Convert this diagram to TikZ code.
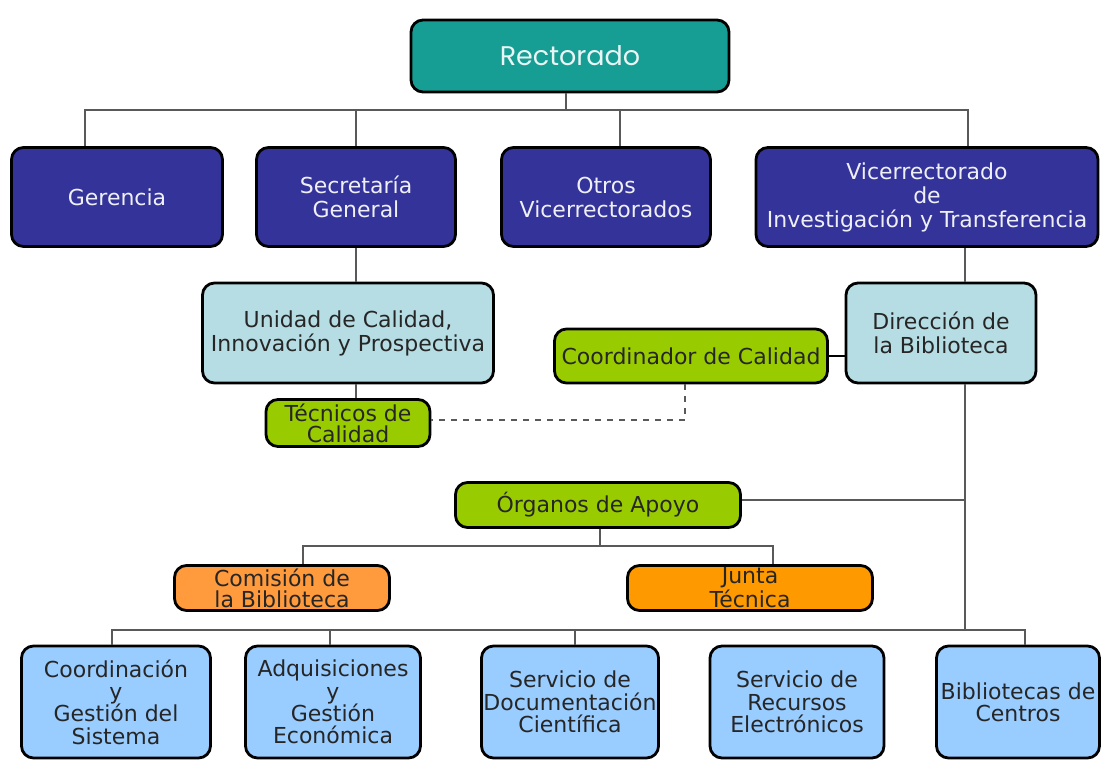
\documentclass[tikz,border=0pt]{standalone}
\usepackage{fontspec}
\setmainfont{DejaVu Sans}
\newfontfamily\headfont{Poppins}
\usepackage{tikz}
\definecolor{tealhead}{HTML}{169E94}
\definecolor{navybox}{HTML}{333399}
\definecolor{palebox}{HTML}{B6DDE3}
\definecolor{limebox}{HTML}{99CC00}
\definecolor{orangeA}{HTML}{FF9A3D}
\definecolor{orangeB}{HTML}{FF9900}
\definecolor{skybox}{HTML}{99CCFF}
\tikzstyle{box} = [rectangle, rounded corners=6pt, draw=black, line width=1.4pt, align=center, inner sep=1pt, text=black!85, font=\fontsize{11}{12}\selectfont]
\tikzstyle{head} = [box, fill=tealhead, text=white!90!tealhead, font=\headfont\fontsize{13.5}{15}\selectfont, minimum width=159pt, minimum height=36pt]
\tikzstyle{navy} = [box, fill=navybox, text=white!92!navybox, minimum height=49.5pt]
\tikzstyle{pale} = [box, fill=palebox, minimum height=50pt]
\tikzstyle{lime} = [box, fill=limebox]
\tikzstyle{small} = [box, inner sep=0pt, font=\fontsize{11}{10.6}\selectfont, minimum height=22.5pt]
\tikzstyle{unit} = [box, fill=skybox, minimum height=56pt, font=\fontsize{11}{11.2}\selectfont]
\tikzstyle{link} = [draw=black!65, line width=0.7pt]
\tikzstyle{dashlink} = [link, dashed]

\begin{document}
\begin{tikzpicture}[x=0.5pt, y=-0.5pt]
    \useasboundingbox (0,0) rectangle (1102,760);

    \node (rect) [head] at (570,56) {Rectorado};

    \node (ger) [navy, minimum width=105.5pt] at (117,197) {Gerencia};
    \node (sec) [navy, minimum width=99.5pt] at (356,197) {Secretaría\\General};
    \node (otros) [navy, minimum width=104.5pt] at (606,197) {Otros\\Vicerrectorados};
    \node (vice) [navy, minimum width=171pt] at (927,197) {Vicerrectorado\\de\\Investigación y Transferencia};

    \node (unidad) [pale, minimum width=145.5pt] at (348,333) {Unidad de Calidad,\\Innovación y Prospectiva};
    \node (dir) [pale, minimum width=95pt] at (941,333) {Dirección de\\la Biblioteca};
    \node (coord) [lime, minimum width=136.5pt, minimum height=27pt] at (691,356) {Coordinador de Calidad};
    \node (tec) [lime, small, minimum width=82pt, minimum height=23.5pt] at (348,423) {Técnicos de\\Calidad};

    \node (organos) [lime, minimum width=142.5pt, minimum height=22.5pt] at (598,505) {Órganos de Apoyo};
    \node (comision) [small, fill=orangeA, minimum width=107.5pt] at (282,588) {Comisión de\\la Biblioteca};
    \node (junta) [small, fill=orangeB, minimum width=122.5pt] at (750,588) {Junta\\Técnica};

    \node (coordsis) [unit, minimum width=94.5pt] at (116,702) {Coordinación\\y\\Gestión del\\Sistema};
    \node (adq) [unit, minimum width=87.5pt] at (333,702) {Adquisiciones\\y\\Gestión\\Económica};
    \node (sdoc) [unit, minimum width=87pt] at (570,702) {Servicio de\\Documentación\\Científica};
    \node (srec) [unit, minimum width=87pt] at (797,702) {Servicio de\\Recursos\\Electrónicos};
    \node (bib) [unit, minimum width=81.5pt] at (1018,702) {Bibliotecas de\\Centros};

    \coordinate (bustop) at (566,110);
    \coordinate (busmid) at (600,546);
    \coordinate (buslow) at (965,630);

    \draw [link] (rect.south -| bustop) -- (bustop);
    \draw [link] ([xshift=-16pt]ger.north) |- (bustop) -| ([xshift=20.5pt]vice.north);
    \draw [link] (sec.north) -- (sec.north |- bustop);
    \draw [link] ([xshift=7pt]otros.north) -- ([xshift=7pt]otros.north |- bustop);

    \draw [link] (sec.south) -- (unidad.north -| sec.south);
    \draw [link] (unidad.south -| sec.south) -- (tec.north -| sec.south);
    \draw [link] ([xshift=19pt]vice.south) -- ([xshift=19pt]vice.south |- dir.north);
    \draw [line width=1.4pt] (coord.east) -- (coord.east -| dir.west);
    \draw [dashlink] ([xshift=-3pt]coord.south) |- ([yshift=1.5pt]tec.east);

    \draw [link] ([xshift=12pt]dir.south) -- (buslow) -| ([xshift=3.5pt]bib.north);
    \draw [link] ([yshift=2.5pt]organos.east) -- ([yshift=2.5pt]organos.east -| buslow);
    \draw [link] ([xshift=1pt]organos.south) -- (busmid);
    \draw [link] ([xshift=10.5pt]comision.north) |- (busmid) -| ([xshift=11.5pt]junta.north);

    \draw [link] ([xshift=-2pt]coordsis.north) |- (buslow);
    \draw [link] ([xshift=-1.5pt]adq.north) -- ([xshift=-1.5pt]adq.north |- buslow);
    \draw [link] ([xshift=2.5pt]sdoc.north) -- ([xshift=2.5pt]sdoc.north |- buslow);
\end{tikzpicture}
\end{document}
